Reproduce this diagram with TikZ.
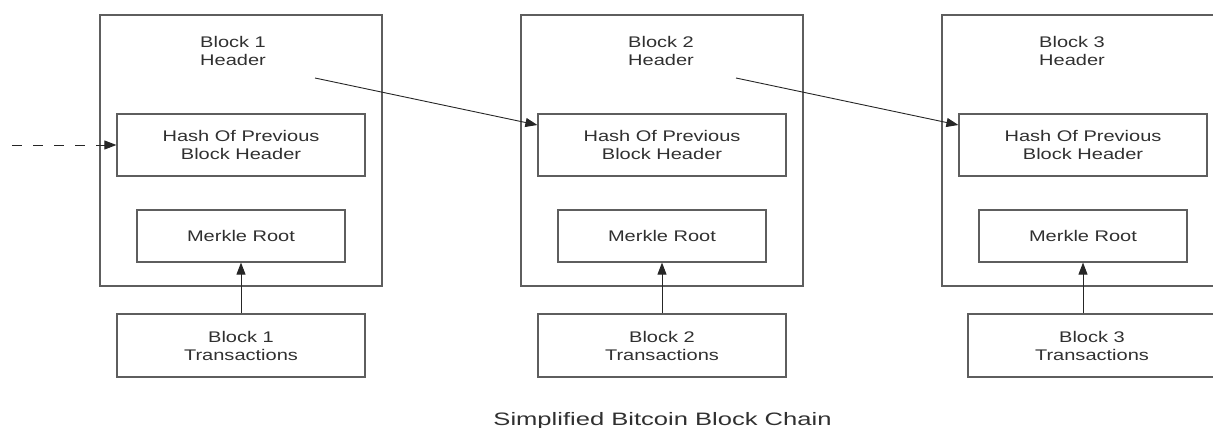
\documentclass[tikz,border=0pt]{standalone}
\usepackage{fontspec}
\setmainfont{Liberation Sans}
\newfontfamily\boxfont{Liberation Sans}[FakeStretch=1.3]
\newfontfamily\capfont{Liberation Sans}[FakeStretch=1.42]
\usetikzlibrary{calc,arrows.meta}

\definecolor{linegray}{HTML}{5E5E5E}
\definecolor{textgray}{HTML}{303030}

\tikzset{
  blockbox/.style={draw=linegray, line width=1.2pt, minimum width=282pt, minimum height=271pt, inner sep=0pt},
  innerbox/.style={draw=linegray, line width=1.2pt, minimum height=62pt, inner sep=0pt, align=center,
    font=\boxfont\fontsize{15.4}{18}\selectfont, text=textgray},
  headtext/.style={anchor=north west, inner sep=0pt, align=left,
    font=\boxfont\fontsize{15.4}{18}\selectfont, text=textgray},
  link/.style={draw=black!85, line width=0.9pt, -{Triangle[length=12pt,width=9pt]}}
}

\begin{document}
\begin{tikzpicture}[x=1pt,y=-1pt]

  % Page frame
  \useasboundingbox (0,0) rectangle (1213,428);

  % Block 1
  \node[blockbox] (blk1) at (241,150.5) {};
  \node[headtext] (head1) at (200,36) {Block 1\\Header};
  \node[innerbox, minimum width=248pt] (hash1) at (241,145) {Hash Of Previous\\Block Header};
  \node[innerbox, minimum width=208pt, minimum height=52pt] (merk1) at (241,236) {Merkle Root};
  \node[innerbox, minimum width=248pt, minimum height=63pt] (trans1) at (241,345.5) {Block 1\\Transactions};

  % Block 2
  \node[blockbox] (blk2) at (662,150.5) {};
  \node[headtext] (head2) at (628,36) {Block 2\\Header};
  \node[innerbox, minimum width=248pt] (hash2) at (662,145) {Hash Of Previous\\Block Header};
  \node[innerbox, minimum width=208pt, minimum height=52pt] (merk2) at (662,236) {Merkle Root};
  \node[innerbox, minimum width=248pt, minimum height=63pt] (trans2) at (662,345.5) {Block 2\\Transactions};

  % Block 3 (runs off the right edge)
  \node[blockbox] (blk3) at (1083,150.5) {};
  \node[headtext] (head3) at (1039,36) {Block 3\\Header};
  \node[innerbox, minimum width=248pt] (hash3) at (1083,145) {Hash Of Previous\\Block Header};
  \node[innerbox, minimum width=208pt, minimum height=52pt] (merk3) at (1083,236) {Merkle Root};
  \node[innerbox, minimum width=248pt, minimum height=63pt] (trans3) at (1092,345.5) {Block 3\\Transactions};

  % Free ends of the links
  \coordinate (prev) at (12,145);
  \coordinate (out1) at (315,78);
  \coordinate (out2) at (736,78);

  % Links between blocks
  \draw[link, dash pattern=on 10pt off 11pt] (prev) -- (hash1.west);
  \draw[link] (out1) -- ([yshift=20pt]hash2.west);
  \draw[link] (out2) -- ([yshift=20pt]hash3.west);

  % Transactions feed the Merkle root
  \draw[link] (trans1.north) -- (merk1.south);
  \draw[link] (trans2.north) -- (merk2.south);
  \draw[link] (trans3.north -| merk3.south) -- (merk3.south);

  % Caption
  \node[anchor=base, inner sep=0pt, text=textgray, font=\capfont\fontsize{18}{22}\selectfont] (title) at (662.5,425) {Simplified Bitcoin Block Chain};

\end{tikzpicture}
\end{document}
